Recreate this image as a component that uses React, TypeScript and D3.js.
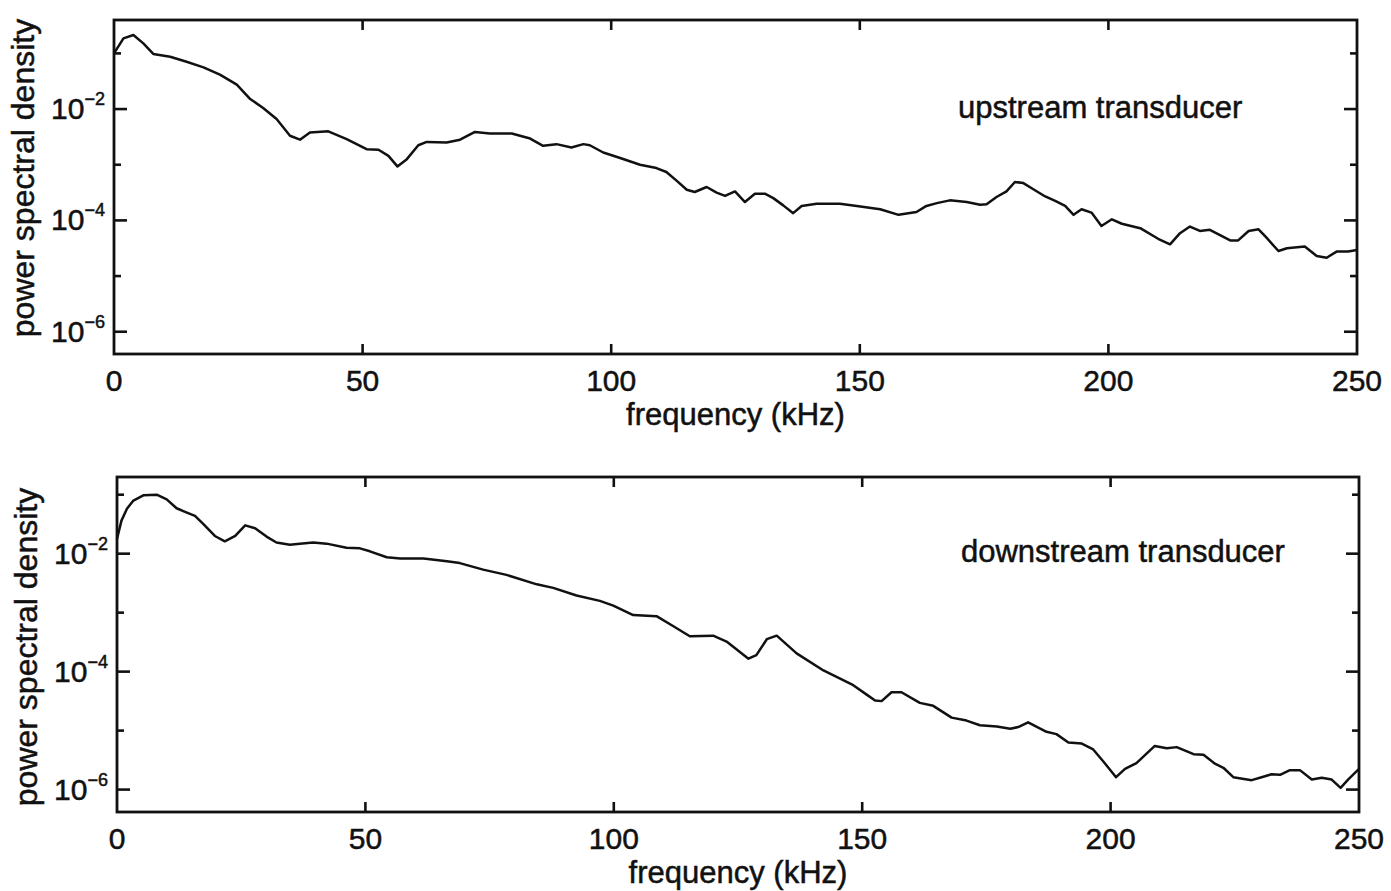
import React from "react";
import * as d3 from "d3";

// frequency (kHz) and log10(power spectral density)
const upFreq = [0, 1.9, 3.9, 5.9, 7.9, 11.3, 14.6, 18, 21.3, 24.7, 27.4, 30, 32.7, 35.4, 37.4, 39.4, 43.1, 46.8, 50.8, 53.2, 55.2, 57, 58.9, 61.2, 62.9, 66.9, 69.6, 72.6, 75.6, 80, 83.7, 86.3, 89, 92, 94.4, 95.7, 98.4, 101.8, 105.8, 109.1, 111.1, 113.2, 115.2, 116.8, 119.2, 121.2, 122.9, 124.9, 126.9, 128.9, 130.9, 132.6, 134.6, 136.6, 138.3, 141.3, 146, 149.4, 154.1, 157.8, 161.4, 163.4, 165.5, 168.1, 171.5, 174.2, 175.5, 177.5, 179.5, 181.2, 182.9, 184.9, 187.3, 189.3, 191.3, 193, 194.6, 196.6, 198.6, 200.7, 202.7, 206.4, 210, 212.4, 214.4, 216.4, 218.4, 220.4, 224.5, 226.1, 228.2, 230.2, 231.8, 234.2, 235.9, 239.5, 241.9, 243.9, 245.9, 248.2, 250];
const upLogPsd = [-1.0, -0.73, -0.67, -0.82, -1.01, -1.06, -1.15, -1.25, -1.38, -1.56, -1.82, -1.98, -2.18, -2.48, -2.55, -2.42, -2.4, -2.54, -2.72, -2.73, -2.84, -3.03, -2.9, -2.65, -2.59, -2.6, -2.55, -2.41, -2.44, -2.44, -2.53, -2.66, -2.63, -2.69, -2.63, -2.65, -2.78, -2.88, -3.0, -3.06, -3.13, -3.29, -3.45, -3.49, -3.4, -3.5, -3.56, -3.48, -3.67, -3.52, -3.52, -3.6, -3.73, -3.87, -3.74, -3.7, -3.7, -3.74, -3.8, -3.9, -3.85, -3.74, -3.69, -3.64, -3.67, -3.72, -3.71, -3.58, -3.48, -3.31, -3.33, -3.44, -3.57, -3.65, -3.74, -3.9, -3.8, -3.86, -4.1, -3.98, -4.06, -4.14, -4.33, -4.43, -4.23, -4.11, -4.19, -4.17, -4.36, -4.36, -4.19, -4.16, -4.31, -4.55, -4.5, -4.47, -4.64, -4.67, -4.56, -4.56, -4.53];

const downFreq = [0, 0.9, 2, 3.3, 5.3, 8, 10, 12, 13.7, 15.7, 17.4, 19.7, 21.7, 23.8, 25.8, 27.8, 30.1, 32.1, 34.8, 36.8, 39.5, 42.2, 46.2, 48.9, 50.9, 54.3, 57, 61.7, 66.4, 69, 73.7, 78.4, 84.5, 87.8, 92.5, 97.2, 99.9, 103.9, 108.6, 112, 115.3, 120, 122.7, 127.1, 128.7, 130.8, 132.8, 136.8, 142.2, 148.2, 150.9, 152.6, 153.9, 155.9, 157.9, 161.6, 164.3, 168, 171, 173.7, 177.1, 179.8, 181.4, 183.4, 187.1, 189.1, 191.5, 194.2, 196.5, 198.5, 201.1, 202.9, 205.2, 208.9, 211.3, 213.3, 216.7, 218.7, 221, 222.7, 224.7, 228.4, 230.4, 232.4, 234.1, 236.1, 238.1, 240.5, 242.5, 244.5, 246.3, 247.8, 250];
const downLogPsd = [-1.75, -1.44, -1.24, -1.1, -1.01, -1.0, -1.08, -1.23, -1.29, -1.36, -1.5, -1.7, -1.79, -1.7, -1.52, -1.57, -1.71, -1.81, -1.85, -1.83, -1.81, -1.83, -1.9, -1.91, -1.96, -2.06, -2.08, -2.08, -2.13, -2.16, -2.27, -2.36, -2.52, -2.58, -2.71, -2.8, -2.88, -3.04, -3.06, -3.23, -3.4, -3.39, -3.49, -3.78, -3.72, -3.45, -3.39, -3.69, -3.98, -4.23, -4.39, -4.49, -4.5, -4.35, -4.35, -4.53, -4.58, -4.78, -4.83, -4.91, -4.93, -4.97, -4.94, -4.86, -5.02, -5.06, -5.2, -5.22, -5.32, -5.52, -5.79, -5.65, -5.55, -5.26, -5.3, -5.28, -5.4, -5.41, -5.56, -5.63, -5.79, -5.84, -5.79, -5.74, -5.75, -5.67, -5.67, -5.83, -5.8, -5.83, -5.97, -5.83, -5.65];

const xTicks = [0, 50, 100, 150, 200, 250];
const yDecades = [-1, -2, -3, -4, -5, -6];
const yLabelled = [-2, -4, -6];

const FONT = "'Liberation Sans', Arial, Helvetica, sans-serif";
const INK = "#111";

type PanelProps = {
  freq: number[];
  logPsd: number[];
  title: string;
  titleY: number;
  yLabelCenter: number;
  left: number;
  right: number;
  top: number;
  bottom: number;
  logMin: number;
  logMax: number;
};

const textStyle = { fontFamily: FONT, fill: INK, stroke: INK, strokeWidth: 0.5 } as const;

function Panel({ freq, logPsd, title, titleY, yLabelCenter, left, right, top, bottom, logMin, logMax }: PanelProps) {
  const x = d3.scaleLinear().domain([0, 250]).range([left, right]);
  const y = d3.scaleLog().domain([Math.pow(10, logMin), Math.pow(10, logMax)]).range([bottom, top]);
  const pts = freq.map((f, i) => [f, Math.pow(10, logPsd[i])] as [number, number]);
  const line = d3
    .line<[number, number]>()
    .x((d) => x(d[0]))
    .y((d) => y(d[1]));
  const midX = (left + right) / 2;
  return (
    <g>
      <path d={line(pts) || ""} fill="none" stroke={INK} strokeWidth={2.5} strokeLinejoin="round" />
      <rect x={left} y={top} width={right - left} height={bottom - top} fill="none" stroke={INK} strokeWidth={2.8} />
      {xTicks.slice(1, -1).map((t) => (
        <g key={"xt" + t}>
          <line x1={x(t)} x2={x(t)} y1={bottom} y2={bottom - 10} stroke={INK} strokeWidth={2.6} />
          <line x1={x(t)} x2={x(t)} y1={top} y2={top + 10} stroke={INK} strokeWidth={2.6} />
        </g>
      ))}
      {xTicks.map((t) => (
        <text key={"xl" + t} x={x(t)} y={bottom + 37} textAnchor="middle" fontSize={30} style={textStyle}>
          {t}
        </text>
      ))}
      {yDecades.map((e) => {
        const yy = y(Math.pow(10, e));
        const len = yLabelled.includes(e) ? 13 : 7;
        return (
          <g key={"yt" + e}>
            <line x1={left} x2={left + len} y1={yy} y2={yy} stroke={INK} strokeWidth={2.6} />
            <line x1={right} x2={right - len} y1={yy} y2={yy} stroke={INK} strokeWidth={2.6} />
          </g>
        );
      })}
      {yLabelled.map((e) => {
        const yy = y(Math.pow(10, e));
        return (
          <text key={"yl" + e} x={left - 9} y={yy + 10} textAnchor="end" fontSize={30} style={textStyle}>
            10
            <tspan fontSize={18} dy={-14}>
              {"\u2212" + Math.abs(e)}
            </tspan>
          </text>
        );
      })}
      <text x={midX} y={bottom + 71} textAnchor="middle" fontSize={31} style={textStyle}>
        frequency (kHz)
      </text>
      <text
        transform={`translate(${left - 80},${yLabelCenter}) rotate(-90)`}
        textAnchor="middle"
        fontSize={32}
        style={textStyle}
      >
        power spectral density
      </text>
      <text x={958 + (left - 114)} y={titleY} fontSize={31} style={textStyle}>
        {title}
      </text>
    </g>
  );
}

export default function App() {
  return (
    <svg
      width={1391}
      height={891}
      viewBox="0 0 1391 891"
      style={{ position: "absolute", left: 0, top: 0, background: "#fff" }}
    >
      <rect x={0} y={0} width={1391} height={891} fill="#fff" />
      <Panel
        freq={upFreq}
        logPsd={upLogPsd}
        title="upstream transducer"
        titleY={118}
        yLabelCenter={178}
        left={114}
        right={1357}
        top={20}
        bottom={354}
        logMin={-6.4}
        logMax={-0.4}
      />
      <Panel
        freq={downFreq}
        logPsd={downLogPsd}
        title="downstream transducer"
        titleY={562}
        yLabelCenter={647}
        left={117}
        right={1359}
        top={477}
        bottom={812}
        logMin={-6.38}
        logMax={-0.7}
      />
    </svg>
  );
}
